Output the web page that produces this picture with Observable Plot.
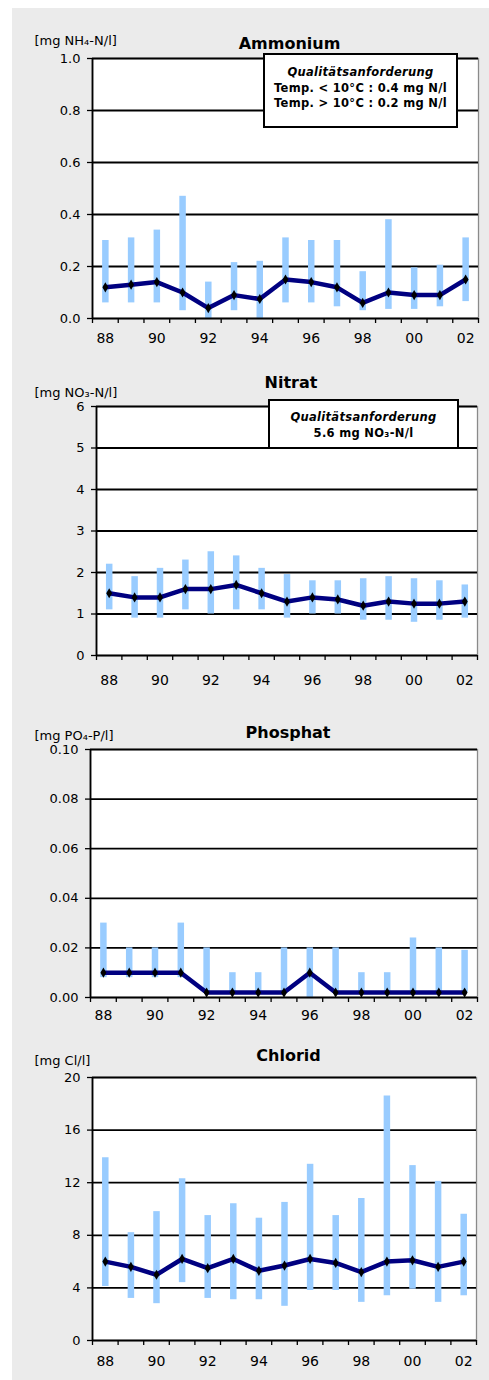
<!DOCTYPE html>
<html><head><meta charset="utf-8">
<script src="https://cdn.jsdelivr.net/npm/d3@7"></script>
<script src="https://cdn.jsdelivr.net/npm/@observablehq/plot@0.6"></script>
<style>
body{margin:0;background:#fff;}
#wrap{position:relative;width:489px;height:1380px;overflow:hidden;}
#bg{position:absolute;left:12px;top:8px;right:0;bottom:0;background:#ebebeb;}
.panel{position:absolute;left:0;}
.box{position:absolute;box-sizing:border-box;background:#fff;border:2px solid #000;font-family:"DejaVu Sans",sans-serif;font-weight:bold;color:#000;text-align:center;font-size:11.5px;line-height:15.5px;letter-spacing:0.3px;}
.box i{font-style:italic;}
</style></head>
<body><div id="wrap"><div id="bg"></div></div>
<script>
// Years (categories)
const years = ["88","89","90","91","92","93","94","95","96","97","98","99","00","01","02"];

// Ammonium [mg NH4-N/l]
const ammoniumMean = [0.12,0.13,0.14,0.10,0.04,0.09,0.075,0.15,0.14,0.12,0.06,0.10,0.09,0.09,0.15];
const ammoniumMin  = [0.06,0.06,0.06,0.03,0.00,0.03,0.00,0.06,0.06,0.045,0.03,0.035,0.035,0.045,0.065];
const ammoniumMax  = [0.30,0.31,0.34,0.47,0.14,0.215,0.22,0.31,0.30,0.30,0.18,0.38,0.195,0.205,0.31];
const ammoniumTicks = [0,0.2,0.4,0.6,0.8,1.0];

// Nitrat [mg NO3-N/l]
const nitratMean = [1.5,1.4,1.4,1.6,1.6,1.7,1.5,1.3,1.4,1.35,1.2,1.3,1.25,1.25,1.3];
const nitratMin  = [1.1,0.9,0.9,1.1,1.0,1.1,1.1,0.9,1.0,1.0,0.85,0.85,0.8,0.85,0.9];
const nitratMax  = [2.2,1.9,2.1,2.3,2.5,2.4,2.1,1.95,1.8,1.8,1.85,1.9,1.85,1.8,1.7];
const nitratTicks = [0,1,2,3,4,5,6];

// Phosphat [mg PO4-P/l]
const phosphatMean = [0.01,0.01,0.01,0.01,0.002,0.002,0.002,0.002,0.01,0.002,0.002,0.002,0.002,0.002,0.002];
const phosphatMin  = [0.008,0.008,0.008,0.008,0.002,0.002,0.002,0.002,0.0,0.002,0.002,0.002,0.002,0.002,0.002];
const phosphatMax  = [0.03,0.02,0.02,0.03,0.02,0.01,0.01,0.02,0.02,0.02,0.01,0.01,0.024,0.02,0.019];
const phosphatTicks = [0,0.02,0.04,0.06,0.08,0.10];

// Chlorid [mg Cl/l]
const chloridMean = [6.0,5.6,5.0,6.2,5.5,6.2,5.3,5.7,6.2,5.9,5.2,6.0,6.1,5.6,6.0];
const chloridMin  = [4.1,3.2,2.8,4.4,3.2,3.1,3.1,2.6,3.8,3.8,2.9,3.4,3.9,2.9,3.4];
const chloridMax  = [13.9,8.2,9.8,12.3,9.5,10.4,9.3,10.5,13.4,9.5,10.8,18.6,13.3,12.1,9.6];
const chloridTicks = [0,4,8,12,16,20];

const wrap = document.getElementById("wrap");

function panel(o) {
  const data = years.map((y, i) => ({i, year: y, mean: o.mean[i], min: o.min[i], max: o.max[i]}));
  const idx = years.map((_, i) => i);
  const xMin = -0.5, xMax = years.length - 0.5;
  const labelIdx = idx.filter(i => i % 2 === 0);
  const bounds = [...idx.map(i => i - 0.5), xMax];
  const yLo = o.ticks[0], yHi = o.ticks[o.ticks.length - 1];
  const chart = Plot.plot({
    width: 489, height: o.height,
    marginTop: o.mt, marginBottom: o.mb, marginLeft: o.ml, marginRight: o.mr,
    style: {background: "transparent", overflow: "visible", fontFamily: "DejaVu Sans, sans-serif", color: "#000"},
    x: {type: "linear", domain: [xMin, xMax], axis: null},
    y: {domain: [yLo, yHi], axis: null},
    marks: [
      Plot.frame({fill: "white", stroke: "#8a8a8a", strokeWidth: 1.3}),
      Plot.ruleY(o.ticks.filter(t => t > yLo), {stroke: "black", strokeWidth: 1.8}),
      Plot.ruleX(data, {x: "i", y1: "min", y2: "max", stroke: "#99ccff", strokeWidth: 6.5}),
      Plot.line(data, {x: "i", y: "mean", stroke: "#000080", strokeWidth: 4.5}),
      Plot.dot(data, {x: "i", y: "mean", symbol: "diamond", r: 3.1, fill: "black"}),
      Plot.ruleX([xMin], {stroke: "black", strokeWidth: 1.8}),
      Plot.ruleY([yLo], {stroke: "black", strokeWidth: 1.8}),
      Plot.axisY({ticks: o.ticks, label: null, tickSize: 5, tickPadding: 7, tickFormat: o.fmt, fontSize: 13, letterSpacing: "1.5px", strokeWidth: 1.3}),
      Plot.axisX({ticks: labelIdx, label: null, tickSize: 0, tickPadding: o.xpad, tickFormat: i => years[i], fontSize: 14, letterSpacing: "1.5px"}),
      Plot.axisX({ticks: bounds, label: null, tickSize: 5, tickFormat: () => "", strokeWidth: 1.3}),
      Plot.text([o.title], {frameAnchor: "top", lineAnchor: "middle", dx: 4, dy: o.titleDy, fontWeight: "bold", fontSize: 16, letterSpacing: "1.5px"}),
      Plot.text([o.unit], {frameAnchor: "top-left", textAnchor: "start", lineAnchor: "middle", dx: 34 - o.ml, dy: o.unitDy, fontSize: 13, letterSpacing: "0.8px"})
    ]
  });
  const div = document.createElement("div");
  div.className = "panel";
  div.style.top = o.top + "px";
  div.appendChild(chart);
  wrap.appendChild(div);
}

panel({top: 10, height: 350, mt: 48, mb: 42, ml: 92, mr: 11, xpad: 15, titleDy: -15, unitDy: -18,
  ticks: ammoniumTicks, fmt: d => d.toFixed(1), mean: ammoniumMean, min: ammoniumMin, max: ammoniumMax,
  title: "Ammonium", unit: "[mg NH₄-N/l]"});
panel({top: 360, height: 355, mt: 46, mb: 60, ml: 96, mr: 12, xpad: 20, titleDy: -24, unitDy: -14,
  ticks: nitratTicks, fmt: d => d.toFixed(0), mean: nitratMean, min: nitratMin, max: nitratMax,
  title: "Nitrat", unit: "[mg NO₃-N/l]"});
panel({top: 715, height: 320, mt: 34, mb: 38, ml: 90, mr: 12, xpad: 13, titleDy: -17, unitDy: -14,
  ticks: phosphatTicks, fmt: d => d.toFixed(2), mean: phosphatMean, min: phosphatMin, max: phosphatMax,
  title: "Phosphat", unit: "[mg PO₄-P/l]"});
panel({top: 1035, height: 345, mt: 42, mb: 40, ml: 92, mr: 13, xpad: 16, titleDy: -22, unitDy: -17,
  ticks: chloridTicks, fmt: d => d.toFixed(0), mean: chloridMean, min: chloridMin, max: chloridMax,
  title: "Chlorid", unit: "[mg Cl/l]"});

function box(left, top, width, height, lines) {
  const b = document.createElement("div");
  b.className = "box";
  Object.assign(b.style, {left: left + "px", top: top + "px", width: width + "px", height: height + "px"});
  b.innerHTML = lines;
  wrap.appendChild(b);
}
box(263, 53, 195, 75, '<div style="padding-top:10px"><i>Qualitätsanforderung</i><br>Temp. &lt; 10°C : 0.4 mg N/l<br>Temp. &gt; 10°C : 0.2 mg N/l</div>');
box(268, 399, 191, 50, '<div style="padding-top:9px"><i>Qualitätsanforderung</i><br>5.6 mg NO₃-N/l</div>');
</script>
</body></html>
